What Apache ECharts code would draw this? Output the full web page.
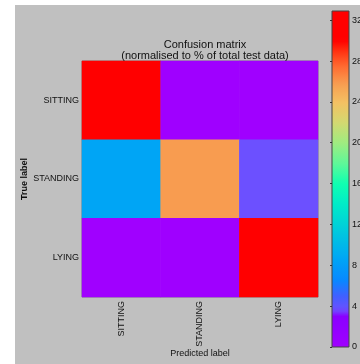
<!DOCTYPE html>
<html>
<head>
<meta charset="utf-8">
<script src="https://cdn.jsdelivr.net/npm/echarts@6/dist/echarts.min.js"></script>
<style>
html,body{margin:0;padding:0;background:#fff;}
#c{width:360px;height:364px;}
</style>
</head>
<body>
<div id="c"></div>
<script>
// ---- data ----
const predictedLabels = ['SITTING', 'STANDING', 'LYING'];
const trueLabels = ['SITTING', 'STANDING', 'LYING'];
// rows = true label, columns = predicted label (% of total test data)
const rowSitting  = [31.9, 0.1, 0.0];
const rowStanding = [8.6, 25.8, 3.6];
const rowLying    = [0.0, 0.1, 32.9];
const colorbarTicks = [0, 4, 8, 12, 16, 20, 24, 28, 32];
const colorMin = 0;
const colorMax = 32.9;

// ---- colormap (style) ----
const cmapStops = [
  [0, '#a000ff'], [3.0, '#8a00ff'], [3.6, '#6c50ff'], [5.0, '#4060ff'],
  [6.5, '#0888ff'], [8.6, '#00a5f5'], [12, '#00d2d8'], [14, '#00ecc8'],
  [16, '#10ffb0'], [18, '#60f898'], [20, '#a0ec80'], [22, '#d4d870'],
  [24, '#f4c062'], [25.8, '#f89c50'], [27.5, '#ff6a30'], [29, '#ff3010'],
  [30, '#ff0000'], [32.9, '#ff0000']
];
function hex2rgb(h){return [parseInt(h.substr(1,2),16),parseInt(h.substr(3,2),16),parseInt(h.substr(5,2),16)];}
function cmap(v){
  for (let i=0;i<cmapStops.length-1;i++){
    const a=cmapStops[i], b=cmapStops[i+1];
    if (v<=b[0]){
      const t=(v-a[0])/(b[0]-a[0]);
      const ca=hex2rgb(a[1]), cb=hex2rgb(b[1]);
      const c=ca.map((x,k)=>Math.round(x+(cb[k]-x)*t));
      return 'rgb('+c.join(',')+')';
    }
  }
  return cmapStops[cmapStops.length-1][1];
}
const nColors = 330;
const palette = [];
for (let i=0;i<nColors;i++){ palette.push(cmap(colorMin + (colorMax-colorMin)*i/(nColors-1))); }
// gradient for the colorbar (top = max, bottom = min)
const gradStops = [];
for (let i=0;i<=66;i++){ const t=i/66; gradStops.push({offset:t, color:cmap(colorMax - (colorMax-colorMin)*t)}); }

const rows = [rowSitting, rowStanding, rowLying];
const heatData = [];
rows.forEach((r, yi) => r.forEach((v, xi) => heatData.push([xi, yi, v])));

const FONT = 'Liberation Sans, Arial, sans-serif';
const CB = {x:332, y:11, w:17, h:336};
const chart = echarts.init(document.getElementById('c'), null, {renderer:'canvas'});
chart.setOption({
  backgroundColor: '#ffffff',
  animation: false,
  graphic: [
    {type:'rect', left:15, top:5, shape:{width:345, height:359}, style:{fill:'#c0c0c0'}, z:-10, silent:true},
    {type:'rect', left:CB.x, top:CB.y, shape:{width:CB.w, height:CB.h}, z:-5, silent:true,
     style:{fill:new echarts.graphic.LinearGradient(0,0,0,1,gradStops)}}
  ],
  title: {
    text: 'Confusion matrix\n(normalised to % of total test data)',
    left: 200, top: 34, textAlign: 'center',
    textStyle: {fontFamily: FONT, fontSize: 11, fontWeight: 'normal', color: '#111', lineHeight: 11.5}
  },
  grid: [
    {left: 82, top: 61, width: 236, height: 236, show: true, borderColor: '#555', borderWidth: 0.6,
     backgroundColor: 'transparent', containLabel: false, outerBoundsMode: 'none'},
    {left: CB.x, top: CB.y, width: CB.w, height: CB.h, show: true, borderColor: '#444', borderWidth: 1,
     backgroundColor: 'transparent', containLabel: false, outerBoundsMode: 'none'}
  ],
  xAxis: [
    {type: 'category', data: predictedLabels, gridIndex: 0, position: 'bottom',
     name: 'Predicted label', nameLocation: 'middle', nameGap: 52, nameMoveOverlap: false,
     nameTextStyle: {fontFamily: FONT, fontSize: 9, color: '#111'},
     axisLine: {show: false}, splitLine: {show: false},
     axisTick: {show: true, inside: true, alignWithLabel: true, length: 2, lineStyle: {color: '#333'}},
     axisLabel: {rotate: 90, fontFamily: FONT, fontSize: 9, color: '#111', margin: 4}},
    {type: 'value', gridIndex: 1, show: false, min: 0, max: 1}
  ],
  yAxis: [
    {type: 'category', data: trueLabels, gridIndex: 0, inverse: true,
     name: 'True label', nameLocation: 'middle', nameGap: 53, nameRotate: 90, nameMoveOverlap: false,
     nameTextStyle: {fontFamily: FONT, fontSize: 9, fontWeight: 'bold', color: '#111'},
     axisLine: {show: false}, splitLine: {show: false},
     axisTick: {show: true, inside: true, alignWithLabel: true, length: 2, lineStyle: {color: '#333'}},
     axisLabel: {fontFamily: FONT, fontSize: 9, color: '#111', margin: 3}},
    {type: 'value', gridIndex: 1, min: colorMin, max: colorMax, interval: 4, position: 'right',
     axisLine: {show: false}, splitLine: {show: false},
     axisTick: {show: true, inside: true, length: 2, lineStyle: {color: '#333'}},
     axisLabel: {fontFamily: FONT, fontSize: 9, color: '#111', margin: 3, showMaxLabel: false,
       formatter: v => colorbarTicks.includes(v) ? String(v) : ''}}
  ],
  visualMap: {
    type: 'continuous', min: colorMin, max: colorMax, seriesIndex: 0, show: false,
    inRange: {color: palette}
  },
  series: [{
    type: 'heatmap', xAxisIndex: 0, yAxisIndex: 0, data: heatData,
    label: {show: false}, itemStyle: {borderWidth: 0}, emphasis: {disabled: true}
  }]
});
</script>
</body>
</html>
